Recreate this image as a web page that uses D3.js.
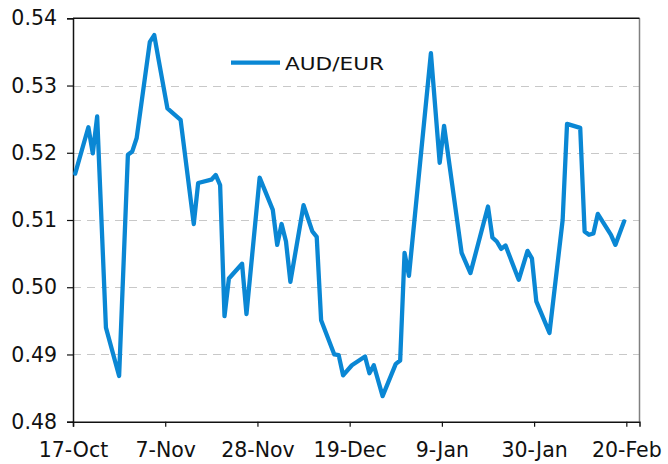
<!DOCTYPE html>
<html>
<head>
<meta charset="utf-8">
<script src="https://cdn.jsdelivr.net/npm/d3@7/dist/d3.min.js"></script>
<style>
  html, body { margin: 0; padding: 0; background: #fff; }
  svg { display: block; }
  text { font-family: "DejaVu Sans", Verdana, sans-serif; fill: #111; }
</style>
</head>
<body>
<svg id="chart" width="668" height="464"></svg>
<script>
// ---- data ----
const seriesName = "AUD/EUR";
const dates = [
  "2011-10-17","2011-10-20","2011-10-21","2011-10-22","2011-10-24","2011-10-27","2011-10-29","2011-10-30","2011-10-31",
  "2011-11-03","2011-11-04","2011-11-05","2011-11-07","2011-11-10","2011-11-13","2011-11-14","2011-11-17","2011-11-18",
  "2011-11-19","2011-11-20","2011-11-21","2011-11-24","2011-11-25","2011-11-28",
  "2011-12-01","2011-12-02","2011-12-03","2011-12-04","2011-12-05","2011-12-08","2011-12-10","2011-12-11","2011-12-12",
  "2011-12-15","2011-12-16","2011-12-17","2011-12-19","2011-12-22","2011-12-23","2011-12-24","2011-12-26","2011-12-29",
  "2011-12-30","2011-12-31",
  "2012-01-01","2012-01-06","2012-01-08","2012-01-09","2012-01-13","2012-01-15","2012-01-19","2012-01-20","2012-01-21",
  "2012-01-22","2012-01-23","2012-01-26","2012-01-28","2012-01-29","2012-01-30",
  "2012-02-02","2012-02-05","2012-02-06","2012-02-09","2012-02-10","2012-02-11","2012-02-12","2012-02-13","2012-02-16",
  "2012-02-17","2012-02-19"
];
const values = [
  0.5169,0.5238,0.5199,0.5254,0.4940,0.4868,0.5197,0.5202,0.5222,
  0.5365,0.5375,0.5338,0.5266,0.5249,0.5094,0.5155,0.5160,0.5167,
  0.5152,0.4957,0.5013,0.5035,0.4960,0.5163,
  0.5115,0.5063,0.5094,0.5068,0.5008,0.5122,0.5083,0.5075,0.4951,
  0.4900,0.4899,0.4869,0.4884,0.4897,0.4872,0.4884,0.4838,0.4886,
  0.4891,0.5051,
  0.5017,0.5348,0.5185,0.5240,0.5051,0.5021,0.5120,0.5074,0.5068,
  0.5057,0.5062,0.5011,0.5054,0.5043,0.4979,
  0.4932,0.5100,0.5243,0.5237,0.5083,0.5078,0.5080,0.5109,0.5078,
  0.5063,0.5098
];
const xTickDates = ["2011-10-17","2011-11-07","2011-11-28","2011-12-19","2012-01-09","2012-01-30","2012-02-20"];
const yTicks = [0.48, 0.49, 0.50, 0.51, 0.52, 0.53, 0.54];
const xDomain = ["2011-10-17", "2012-02-23"];
const yDomain = [0.48, 0.54];

// ---- layout ----
const svg = d3.select("#chart");
const pL = 73, pR = 639.5, pT = 18.3, pB = 421.7;
const parse = d3.utcParse("%Y-%m-%d");
const DAY = 864e5;

const x = d3.scaleUtc().domain(xDomain.map(parse)).range([pL, pR]);
const y = d3.scaleLinear().domain(yDomain).range([pB, pT]);

const data = dates.map((d, i) => ({ date: new Date(parse(d).getTime() + DAY / 2), value: values[i] }));

// gridlines
svg.append("g")
  .selectAll("line")
  .data(yTicks.filter(t => t > yDomain[0] && t < yDomain[1]))
  .join("line")
  .attr("x1", pL).attr("x2", pR)
  .attr("y1", d => Math.round(y(d)) + 0.5).attr("y2", d => Math.round(y(d)) + 0.5)
  .attr("stroke", "#c8c8c8").attr("stroke-width", 1.2)
  .attr("stroke-dasharray", "8,6");

// right border
svg.append("line")
  .attr("x1", pR).attr("x2", pR).attr("y1", pT).attr("y2", pB)
  .attr("stroke", "#808080").attr("stroke-width", 1.5);
// top border
svg.append("line")
  .attr("x1", pL).attr("x2", pR).attr("y1", pT).attr("y2", pT)
  .attr("stroke", "#111").attr("stroke-width", 1.5);

// y axis
const yAxis = d3.axisLeft(y).tickValues(yTicks).tickFormat(d3.format(".2f"))
  .tickSize(6).tickPadding(10);
const gy = svg.append("g").attr("transform", `translate(${pL},0)`).call(yAxis);
gy.select(".domain").attr("stroke", "#111").attr("stroke-width", 1.5);
gy.selectAll(".tick line").attr("stroke", "#111").attr("stroke-width", 1.2);
gy.selectAll("text").style("font-size", "20.5px").attr("fill", "#111");

// x axis
const xAxis = d3.axisBottom(x).tickValues(xTickDates.map(parse))
  .tickFormat(d3.utcFormat("%-d-%b")).tickSize(5).tickPadding(16);
const gx = svg.append("g").attr("transform", `translate(0,${pB})`).call(xAxis);
gx.select(".domain").attr("stroke", "#111").attr("stroke-width", 1.5);
gx.selectAll(".tick line").attr("stroke", "#111").attr("stroke-width", 1.2);
gx.selectAll("text").style("font-size", "20.5px").attr("fill", "#111");

// line
const line = d3.line().x(d => x(d.date)).y(d => y(d.value)).curve(d3.curveLinear);
svg.append("path")
  .datum(data)
  .attr("d", line)
  .attr("fill", "none")
  .attr("stroke", "#0a87d4")
  .attr("stroke-width", 4.3)
  .attr("stroke-linejoin", "round")
  .attr("stroke-linecap", "round");

// legend
const lg = svg.append("g");
lg.append("line")
  .attr("x1", 231).attr("x2", 280).attr("y1", 62.7).attr("y2", 62.7)
  .attr("stroke", "#0a87d4").attr("stroke-width", 4.3);
lg.append("text")
  .attr("x", 285).attr("y", 69.5)
  .style("font-size", "18.5px")
  .attr("textLength", 99)
  .attr("lengthAdjust", "spacingAndGlyphs")
  .text(seriesName);
</script>
</body>
</html>
